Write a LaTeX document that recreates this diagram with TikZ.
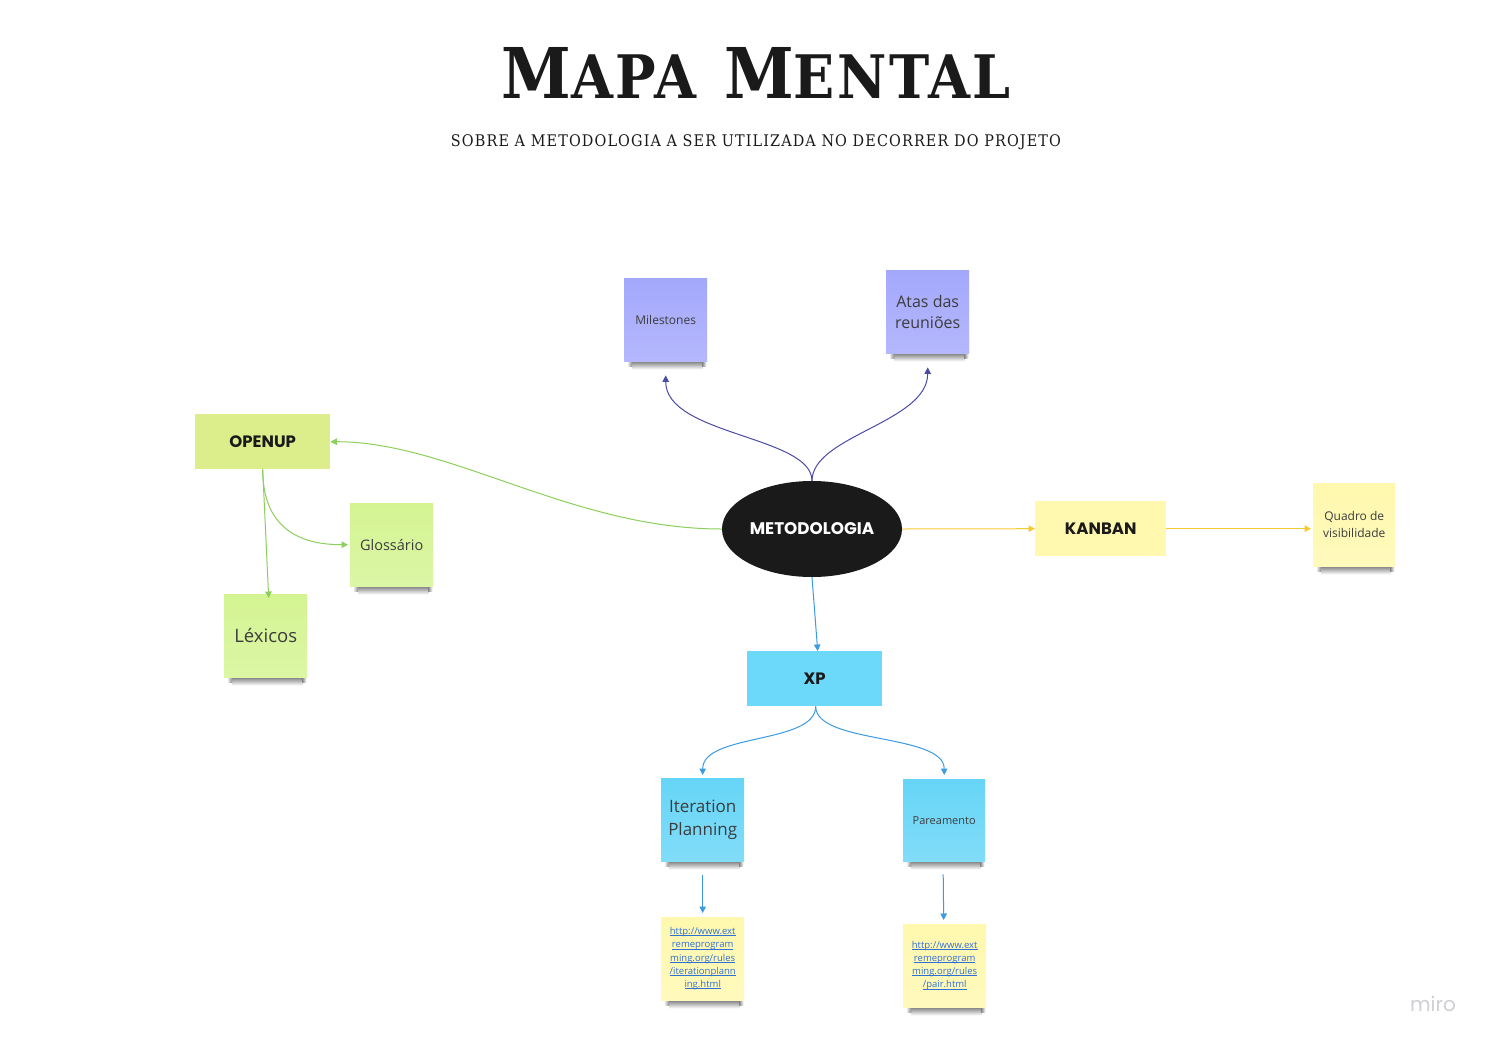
\documentclass[tikz,border=0pt]{standalone}
\usepackage{fontspec}
\setmainfont{Open Sans}
\newfontfamily\titlefont{DejaVu Serif Condensed}[LetterSpace=4]
\newfontfamily\subfont{DejaVu Serif Condensed}[LetterSpace=7]
\newfontfamily\popfont{Poppins}
\usetikzlibrary{shapes.geometric,arrows.meta,backgrounds}
\definecolor{lav}{HTML}{A4A8FC}
\definecolor{lavline}{HTML}{4B4BA6}
\definecolor{limebox}{HTML}{DCEE8C}
\definecolor{limenote}{HTML}{D4F492}
\definecolor{limeline}{HTML}{8CCF5C}
\definecolor{yel}{HTML}{FFF8AE}
\definecolor{yelline}{HTML}{F5C933}
\definecolor{cyanbox}{HTML}{6CD8FA}
\definecolor{cyannote}{HTML}{66D5F7}
\definecolor{cyanline}{HTML}{3C9BE0}
\definecolor{ink}{HTML}{1A1A1A}
\definecolor{linkblue}{HTML}{2F6FD6}
\definecolor{mirogray}{HTML}{CFCFD6}
\tikzset{
  note/.style={anchor=north west, inner sep=0pt, minimum width=83pt, minimum height=83pt, text=ink!85, align=center, top color=#1, bottom color=#1!82!white},
  hbox/.style={anchor=north west, inner sep=0pt, minimum width=135pt, minimum height=55pt, text=ink, font=\popfont\bfseries\fontsize{16.5}{18}\selectfont},
  conn/.style={line width=1pt, -{Triangle[length=6.5pt,width=6.5pt]}},
}
\newcommand{\noteshadow}[1]{%
  \shade[top color=black!55, bottom color=white]
    ([xshift=8pt,yshift=1pt]#1.south west) rectangle ([xshift=-5pt,yshift=-8pt]#1.south east);
  \shade[left color=white, right color=black!45]
    ([xshift=3pt,yshift=1pt]#1.south west) rectangle ([xshift=8pt,yshift=-5pt]#1.south west);
  \shade[right color=white, left color=black!45]
    ([xshift=-5pt,yshift=1pt]#1.south east) rectangle ([xshift=-1pt,yshift=-5pt]#1.south east);}
\newcommand{\lk}[1]{{\setbox0\hbox{#1}\rlap{\rule[-1.3pt]{\wd0}{0.6pt}}\box0}}
\begin{document}
\begin{tikzpicture}[x=1pt,y=-1pt]
\useasboundingbox (0,0) rectangle (1492,1047);

% titles
\node[text=ink, inner sep=0pt] (title) at (756,73) {\titlefont\bfseries{\fontsize{70}{70}\selectfont M}{\fontsize{60}{60}\selectfont APA}\hspace{28pt}{\fontsize{70}{70}\selectfont M}{\fontsize{60}{60}\selectfont ENTAL}};
\node[text=ink, inner sep=0pt] (sub) at (756,142) {\subfont\fontsize{16}{16}\selectfont SOBRE A METODOLOGIA A SER UTILIZADA NO DECORRER DO PROJETO};

% nodes
\node[ellipse, fill=ink, minimum width=180pt, minimum height=96pt, inner sep=0pt, text=white, font=\popfont\bfseries\fontsize{16.8}{18}\selectfont] (met) at (812,529) {METODOLOGIA};

\node[note=lav, font=\fontsize{12}{15}\selectfont] (mil) at (624,278) {Milestones};
\node[note=lav, font=\fontsize{16}{21}\selectfont] (atas) at (886,270) {Atas das\\reuniões};

\node[hbox, fill=limebox] (open) at (195,414) {OPENUP};
\node[note=limenote, font=\fontsize{14.5}{18}\selectfont] (glo) at (350,503) {Glossário};
\node[note=limenote, font=\fontsize{18.5}{22}\selectfont] (lex) at (224,594) {Léxicos};

\node[hbox, fill=yel, minimum width=131pt] (kan) at (1035,501) {KANBAN};
\node[note=yel, minimum width=82pt, font=\fontsize{12}{17}\selectfont] (quad) at (1313,483) {Quadro de\\visibilidade};

\node[hbox, fill=cyanbox] (xp) at (747,651) {XP};
\node[note=cyannote, font=\fontsize{17}{23}\selectfont] (iter) at (661,778) {Iteration\\Planning};
\node[note=cyannote, minimum width=82pt, minimum height=82pt, font=\fontsize{11}{14}\selectfont] (par) at (903,779) {Pareamento};

\node[note=yel, text=linkblue, font=\fontsize{9.5}{13.2}\selectfont] (l1) at (661,917) {\lk{http://www.ext}\\\lk{remeprogram}\\\lk{ming.org/rules}\\\lk{/iterationplann}\\\lk{ing.html}};
\node[note=yel, text=linkblue, font=\fontsize{9.5}{13.2}\selectfont] (l2) at (903,924) {\lk{http://www.ext}\\\lk{remeprogram}\\\lk{ming.org/rules}\\\lk{/pair.html}};

\node[text=mirogray, font=\popfont\fontsize{20}{20}\selectfont] (miro) at (1433,1004) {miro};

\begin{scope}[on background layer]
\fill[white] (0,0) rectangle (1492,1047);
\noteshadow{mil}\noteshadow{atas}\noteshadow{glo}\noteshadow{lex}\noteshadow{quad}
\noteshadow{iter}\noteshadow{par}\noteshadow{l1}\noteshadow{l2}
\end{scope}

% connectors
\draw[conn, lavline] (met.north) .. controls +(0,-45) and +(0,60) .. ([yshift=-14pt]mil.south);
\draw[conn, lavline] (met.north) .. controls +(0,-45) and +(0,55) .. ([yshift=-14pt]atas.south);
\draw[conn, limeline] (met.west) .. controls +(-150,0) and +(120,0) .. (open.east);
\draw[conn, limeline] (open.south) -- ([xshift=3pt,yshift=-4pt]lex.north);
\draw[conn, limeline] (open.south) .. controls +(0,65) and +(-40,0) .. ([xshift=-2pt]glo.west);
\draw[conn, yelline] (met.east) -- (kan.west);
\draw[conn, yelline] (kan.east) -- ([xshift=-2pt]kan.east -| quad.west);
\draw[conn, cyanline] (met.south) -- ([xshift=3pt]xp.north);
\coordinate (xpb) at ([xshift=1pt]xp.south);
\draw[conn, cyanline] (xpb) .. controls +(0,38) and +(0,-42) .. ([yshift=3pt]iter.north);
\draw[conn, cyanline] (xpb) .. controls +(0,38) and +(0,-42) .. ([yshift=4pt]par.north);
\draw[conn, cyanline] ([yshift=-14pt]iter.south) -- ([yshift=4pt]l1.north);
\draw[conn, cyanline] ([xshift=-1pt,yshift=-13pt]par.south) -- ([xshift=-1pt,yshift=4pt]l2.north);
\end{tikzpicture}
\end{document}
